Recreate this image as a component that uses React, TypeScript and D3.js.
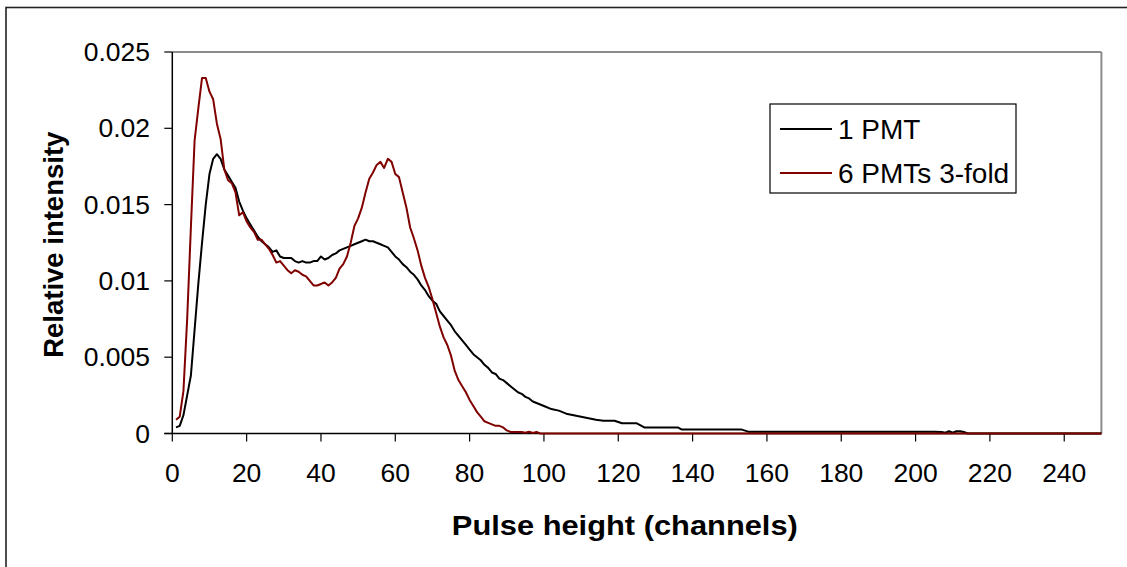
import React from "react";
import * as d3 from "d3";

// ---- data ----
const onePmtChannels: number[] = [
  1, 2, 3, 4, 5, 6, 7, 8, 9, 10, 11, 12, 13, 14, 15, 16, 17, 18, 19, 20,
  21, 22, 23, 24, 25, 26, 27, 28, 29, 30, 31, 32, 33, 34, 35, 36, 37, 38, 39, 40,
  41, 42, 43, 44, 45, 46, 47, 48, 49, 50, 51, 52, 53, 54, 55, 56, 57, 58, 59, 60,
  61, 62, 63, 64, 65, 66, 67, 68, 69, 70, 71, 72, 73, 74, 75, 76, 77, 78, 79, 80,
  81, 82, 83, 84, 85, 86, 87, 88, 89, 90, 91, 92, 93, 94, 95, 96, 97, 98, 99, 100,
  102, 104, 106, 108, 110, 112, 114, 116, 119, 121, 125, 127, 136, 137, 153, 155,
  205, 207, 208, 209, 210, 211, 212, 213, 214, 250,
];
const onePmtValues: number[] = [
  0.0004, 0.0005, 0.0012, 0.0025, 0.0038, 0.0068, 0.0098, 0.0125, 0.015, 0.017,
  0.018, 0.0183, 0.018, 0.0173, 0.0169, 0.0165, 0.0161, 0.0152, 0.0146, 0.0141,
  0.0137, 0.0133, 0.0129, 0.0126, 0.0124, 0.0122, 0.0119, 0.012, 0.0116, 0.0115,
  0.0115, 0.0115, 0.0113, 0.0112, 0.0113, 0.0112, 0.0112, 0.0113, 0.0113, 0.0116,
  0.0114, 0.0115, 0.0117, 0.0118, 0.012, 0.0121, 0.0122, 0.0123, 0.0124, 0.0125,
  0.0126, 0.0127, 0.0126, 0.0126, 0.0125, 0.0124, 0.0123, 0.0122, 0.0119, 0.0116,
  0.0114, 0.0111, 0.0109, 0.0106, 0.0104, 0.0101, 0.0097, 0.0094, 0.009, 0.0087,
  0.0085, 0.008, 0.0077, 0.0074, 0.0071, 0.0067, 0.0064, 0.0061, 0.0058, 0.0055,
  0.0052, 0.005, 0.0048, 0.0045, 0.0043, 0.004, 0.0039, 0.0036, 0.0035, 0.0033,
  0.0031, 0.0029, 0.0027, 0.0026, 0.0024, 0.0023, 0.0021, 0.002, 0.0019, 0.0018,
  0.0016, 0.0015, 0.0013, 0.0012, 0.0011, 0.001, 0.0009, 0.00084, 0.00084, 0.00067,
  0.00067, 0.0004, 0.0004, 0.00027, 0.00027, 0.00012,
  0.00012, 0.0001, 0.00005, 0.00015, 0.00005, 0.00015, 0.00015, 0.0001, 0, 0,
];

const sixPmtChannels: number[] = [
  1, 2, 3, 4, 5, 6, 7, 8, 9, 10, 11, 12, 13, 14, 15, 16, 17, 18, 19, 20,
  21, 22, 23, 24, 25, 26, 27, 28, 29, 30, 31, 32, 33, 34, 35, 36, 37, 38, 39, 40,
  41, 42, 43, 44, 45, 46, 47, 48, 49, 50, 51, 52, 53, 54, 55, 56, 57, 58, 59, 60,
  61, 62, 63, 64, 65, 66, 67, 68, 69, 70, 71, 72, 73, 74, 75, 76, 77, 78, 79, 80,
  81, 82, 83, 84, 85, 86, 87, 88, 89, 90, 91, 92, 93, 94, 95, 96, 97, 98, 99, 100,
  250,
];
const sixPmtValues: number[] = [
  0.0009, 0.0011, 0.0028, 0.0075, 0.0135, 0.0192, 0.0213, 0.0233, 0.0233, 0.0224,
  0.0219, 0.0203, 0.0193, 0.0173, 0.0166, 0.0164, 0.0158, 0.0143, 0.0145, 0.0139,
  0.0135, 0.0132, 0.0127, 0.0127, 0.0124, 0.0121, 0.0117, 0.0112, 0.0113, 0.011,
  0.0107, 0.0105, 0.0107, 0.0106, 0.0104, 0.0103, 0.01, 0.0097, 0.0097, 0.0098,
  0.0099, 0.0097, 0.0099, 0.0102, 0.0108, 0.0111, 0.0116, 0.0125, 0.0136, 0.0141,
  0.0148, 0.0158, 0.0167, 0.0171, 0.0176, 0.0178, 0.0174, 0.018, 0.0178, 0.017,
  0.0168, 0.0158, 0.0148, 0.0135, 0.0128, 0.012, 0.011, 0.0102, 0.0096, 0.0088,
  0.0079, 0.007, 0.0063, 0.0058, 0.0051, 0.0041, 0.0035, 0.0031, 0.0027, 0.0022,
  0.0018, 0.0014, 0.0011, 0.0008, 0.0007, 0.0006, 0.0005, 0.0005, 0.0004, 0.0002,
  0.0001, 0.0001, 0.0001, 0.0001, 0.00005, 0.00012, 0.00003, 0.0001, 0, 0,
  0,
];

const xTicks: number[] = [0, 20, 40, 60, 80, 100, 120, 140, 160, 180, 200, 220, 240];
const yTicks: number[] = [0, 0.005, 0.01, 0.015, 0.02, 0.025];
const yTickLabels: string[] = ["0", "0.005", "0.01", "0.015", "0.02", "0.025"];
const seriesNames: string[] = ["1 PMT", "6 PMTs 3-fold"];
const seriesColors: string[] = ["#000000", "#800000"];

const FONT = "'Liberation Sans', Arial, sans-serif";

export default function App() {
  const W = 1127;
  const H = 567;
  const left = 172.3;
  const right = 1101.4;
  const top = 52;
  const bottom = 433.5;

  const x = d3.scaleLinear().domain([0, 250]).range([left, right]);
  const y = d3.scaleLinear().domain([0, 0.025]).range([bottom, top]);

  const line = d3
    .line<[number, number]>()
    .x((d) => x(d[0]))
    .y((d) => y(d[1]));

  const series = [
    { name: seriesNames[0], color: seriesColors[0], pts: onePmtChannels.map((c, i) => [c, onePmtValues[i]] as [number, number]) },
    { name: seriesNames[1], color: seriesColors[1], pts: sixPmtChannels.map((c, i) => [c, sixPmtValues[i]] as [number, number]) },
  ];

  const legX = 770;
  const legY = 104;
  const legW = 246;
  const legH = 89;

  return (
    <svg
      width={W}
      height={H}
      style={{ position: "absolute", left: 0, top: 0, background: "#fff" }}
      fontFamily={FONT}
    >
      <rect x={0} y={0} width={W} height={H} fill="#fff" />
      {/* outer chart frame */}
      <rect x={6} y={7.5} width={W + 20} height={H + 20} fill="none" stroke="#222" strokeWidth={1.6} />

      {/* plot area border (gray top & right) */}
      <line x1={left} x2={right} y1={top} y2={top} stroke="#8c8c8c" strokeWidth={2} />
      <line x1={right} x2={right} y1={top} y2={bottom} stroke="#8c8c8c" strokeWidth={2} />

      {/* y axis */}
      <line x1={left} x2={left} y1={top} y2={bottom} stroke="#000" strokeWidth={1.5} />
      {yTicks.map((t, i) => (
        <g key={"y" + i}>
          <line x1={left - 8} x2={left} y1={y(t)} y2={y(t)} stroke="#000" strokeWidth={1.2} />
          <text
            x={150}
            y={y(t)}
            textAnchor="end"
            dominantBaseline="central"
            fontSize={26.5}
            fill="#000"
          >
            {yTickLabels[i]}
          </text>
        </g>
      ))}

      {/* x axis */}
      <line x1={left - 8} x2={right} y1={bottom} y2={bottom} stroke="#000" strokeWidth={1.5} />
      {xTicks.map((t) => (
        <g key={"x" + t}>
          <line x1={x(t)} x2={x(t)} y1={bottom} y2={bottom + 8} stroke="#000" strokeWidth={1.2} />
          <text x={x(t)} y={482} textAnchor="middle" fontSize={26.5} fill="#000">
            {t}
          </text>
        </g>
      ))}

      {/* series */}
      {series.map((s) => (
        <path key={s.name} d={line(s.pts) || ""} fill="none" stroke={s.color} strokeWidth={2} strokeLinejoin="round" />
      ))}

      {/* axis titles */}
      <text
        x={(left + right) / 2 - 12}
        y={535}
        textAnchor="middle"
        fontSize={28}
        fontWeight="bold"
        fill="#000"
        textLength={346}
        lengthAdjust="spacingAndGlyphs"
      >
        Pulse height (channels)
      </text>
      <text
        transform={`translate(63, ${(top + bottom) / 2 + 2}) rotate(-90)`}
        textAnchor="middle"
        fontSize={27.5}
        fontWeight="bold"
        fill="#000"
      >
        Relative intensity
      </text>

      {/* legend */}
      <rect x={legX} y={legY} width={legW} height={legH} fill="#fff" stroke="#000" strokeWidth={1.2} />
      {series.map((s, i) => (
        <g key={"leg" + i}>
          <line x1={780} x2={832} y1={129 + i * 44} y2={129 + i * 44} stroke={s.color} strokeWidth={2} />
          <text x={838} y={129 + i * 44} dominantBaseline="central" fontSize={28} fill="#000">
            {s.name}
          </text>
        </g>
      ))}
    </svg>
  );
}
